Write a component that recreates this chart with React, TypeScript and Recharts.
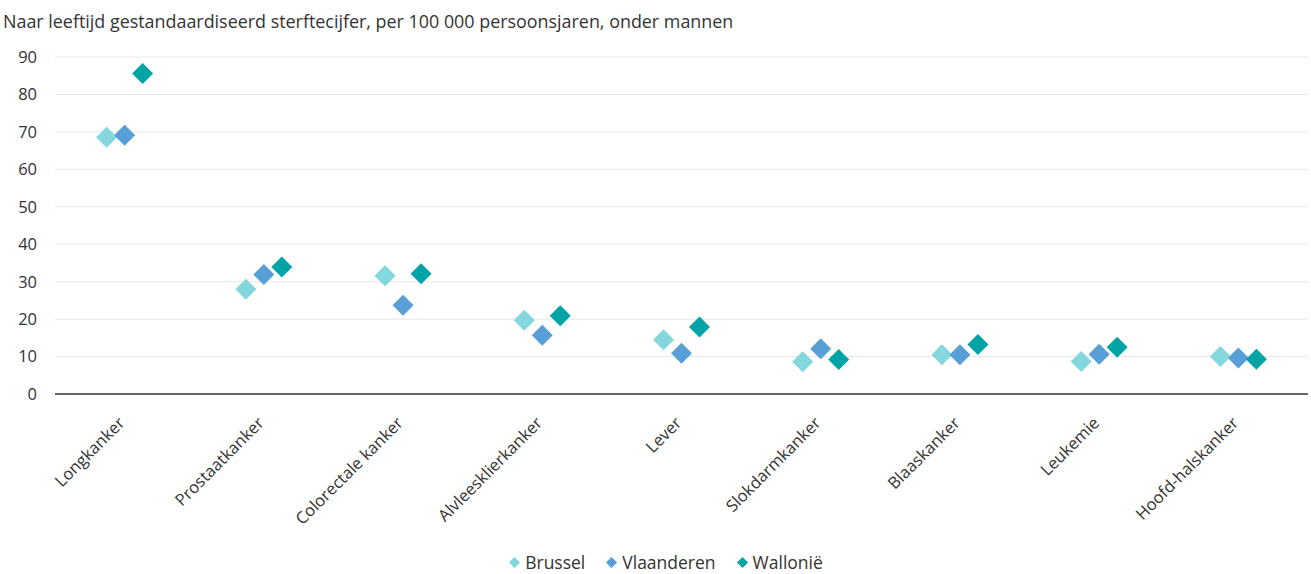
import React from "react";
import {
  ScatterChart,
  Scatter,
  XAxis,
  YAxis,
  CartesianGrid,
  Legend,
} from "recharts";

const categories = [
  "Longkanker",
  "Prostaatkanker",
  "Colorectale kanker",
  "Alvleesklierkanker",
  "Lever",
  "Slokdarmkanker",
  "Blaaskanker",
  "Leukemie",
  "Hoofd-halskanker",
];

const brussel = [68.6, 28.0, 31.6, 19.7, 14.5, 8.6, 10.5, 8.7, 10.0];
const vlaanderen = [69.1, 31.9, 23.7, 15.7, 10.9, 12.1, 10.5, 10.6, 9.6];
const wallonie = [85.6, 33.9, 32.1, 20.9, 17.9, 9.2, 13.2, 12.5, 9.3];

const yTicks = [0, 10, 20, 30, 40, 50, 60, 70, 80, 90];
const xTicks = categories.map((_, i) => i);

const series = [
  { key: "brussel", name: "Brussel", color: "#84d7dc", offset: -18, values: brussel },
  { key: "vlaanderen", name: "Vlaanderen", color: "#589fd7", offset: 0, values: vlaanderen },
  { key: "wallonie", name: "Wallonië", color: "#00a4a7", offset: 18, values: wallonie },
];

const FONT = "'Open Sans', 'Noto Sans', sans-serif";
const TEXT = "#333333";

const diamond = (color: string, offset: number) => (props: any) => {
  const { cx, cy } = props;
  if (cx == null || cy == null) return <g />;
  const x = cx + offset;
  const r = 10.5;
  return (
    <path
      d={`M${x},${cy - r}L${x + r},${cy}L${x},${cy + r}L${x - r},${cy}Z`}
      fill={color}
    />
  );
};

const CategoryTick = (props: any) => {
  const { x, y, payload } = props;
  return (
    <g transform={`translate(${x - 3},${y + 18}) rotate(-45)`}>
      <text
        x={0}
        y={0}
        dy="0.35em"
        textAnchor="end"
        fill={TEXT}
        fontSize={16.5}
        fontFamily={FONT}
      >
        {categories[payload.value]}
      </text>
    </g>
  );
};

const LegendContent = () => (
  <div
    style={{
      display: "flex",
      justifyContent: "center",
      gap: 21,
      fontFamily: FONT,
      fontSize: 17.5,
      color: TEXT,
      height: 24,
      paddingTop: 8,
      paddingLeft: 24,
      alignItems: "center",
    }}
  >
    {series.map((s) => (
      <span key={s.key} style={{ display: "flex", alignItems: "center" }}>
        <svg width={11} height={11} style={{ marginRight: 5 }}>
          <path d="M5.5,0L11,5.5L5.5,11L0,5.5Z" fill={s.color} />
        </svg>
        {s.name}
      </span>
    ))}
  </div>
);

export default function App() {
  return (
    <div
      style={{
        position: "absolute",
        left: 0,
        top: 0,
        width: 1311,
        height: 574,
        background: "#fff",
        fontFamily: FONT,
      }}
    >
      <div
        style={{
          position: "absolute",
          left: 3,
          top: 9,
          fontSize: 17.9,
          color: TEXT,
          whiteSpace: "nowrap",
        }}
      >
        Naar leeftijd gestandaardiseerd sterftecijfer, per 100 000 persoonsjaren, onder mannen
      </div>
      <ScatterChart
        width={1311}
        height={574}
        margin={{ top: 57, right: 3, left: 0, bottom: 0 }}
      >
        <CartesianGrid vertical={false} stroke="#e6e6e6" strokeWidth={1} />
        <XAxis
          dataKey="idx"
          type="number"
          domain={[-0.5, 8.5]}
          ticks={xTicks}
          interval={0}
          height={148}
          tickLine={false}
          axisLine={{ stroke: "#666666", strokeWidth: 2 }}
          tick={<CategoryTick />}
        />
        <YAxis
          dataKey="value"
          type="number"
          domain={[0, 90]}
          ticks={yTicks}
          width={55}
          axisLine={false}
          tickLine={false}
          tickSize={0}
          tickMargin={18}
          tick={{ fill: TEXT, fontSize: 16.5, fontFamily: FONT }}
        />
        {series.map((s) => (
          <Scatter
            key={s.key}
            name={s.name}
            data={s.values.map((value, idx) => ({ idx, value }))}
            fill={s.color}
            shape={diamond(s.color, s.offset)}
            isAnimationActive={false}
          />
        ))}
        <Legend verticalAlign="bottom" content={<LegendContent />} />
      </ScatterChart>
    </div>
  );
}
